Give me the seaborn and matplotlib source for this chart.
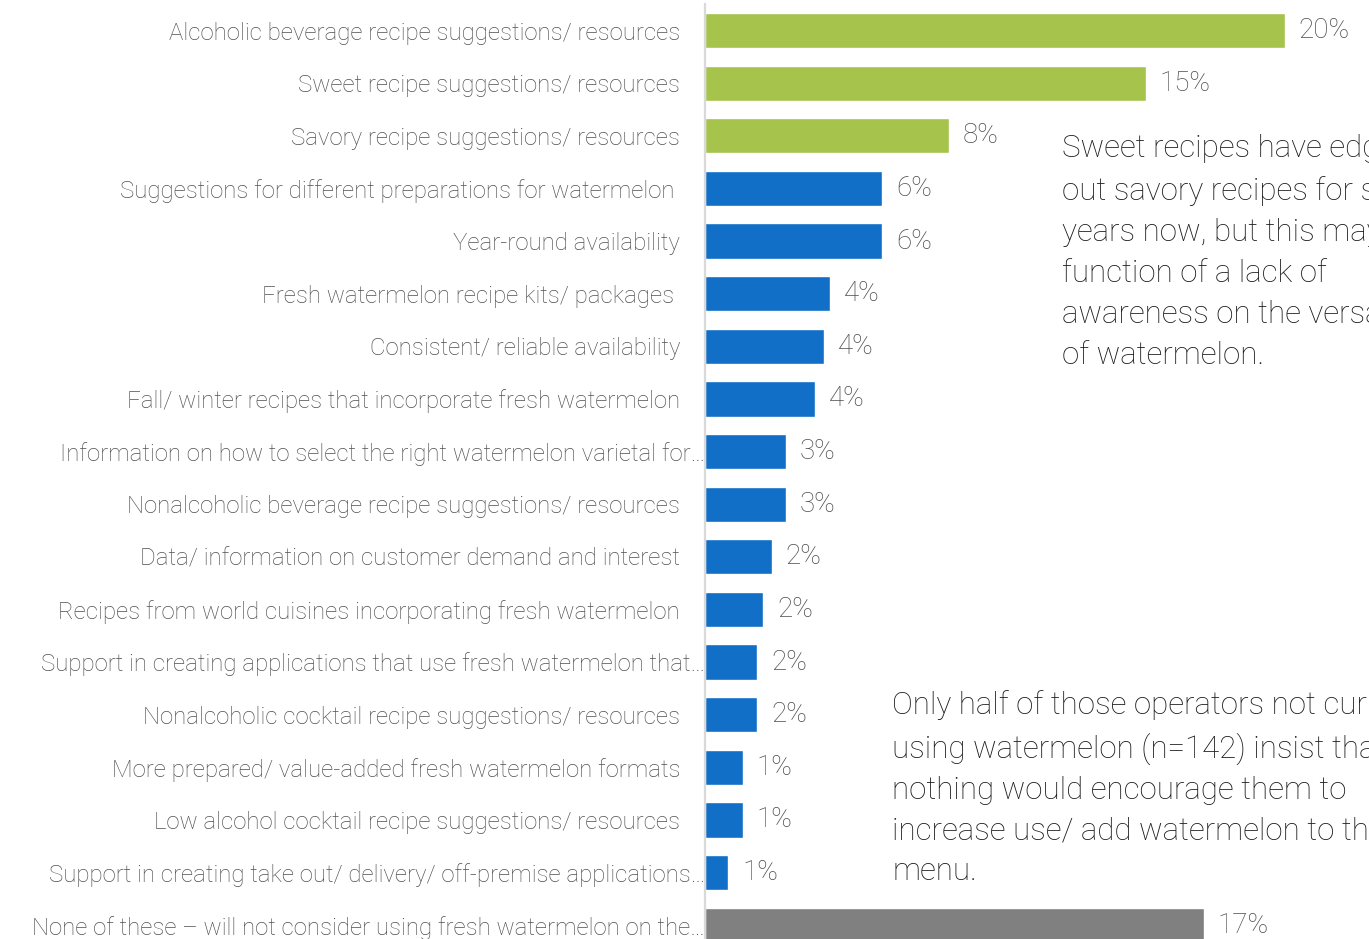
import matplotlib
matplotlib.use("Agg")
import matplotlib.pyplot as plt
from matplotlib.transforms import ScaledTranslation
import seaborn as sns
import pandas as pd

# Survey responses: what would encourage operators to use more fresh watermelon
categories = [
    "Alcoholic beverage recipe suggestions/ resources",
    "Sweet recipe suggestions/ resources",
    "Savory recipe suggestions/ resources",
    "Suggestions for different preparations for watermelon ",
    "Year-round availability",
    "Fresh watermelon recipe kits/ packages ",
    "Consistent/ reliable availability",
    "Fall/ winter recipes that incorporate fresh watermelon",
    "Information on how to select the right watermelon varietal for…",
    "Nonalcoholic beverage recipe suggestions/ resources",
    "Data/ information on customer demand and interest",
    "Recipes from world cuisines incorporating fresh watermelon",
    "Support in creating applications that use fresh watermelon that…",
    "Nonalcoholic cocktail recipe suggestions/ resources",
    "More prepared/ value-added fresh watermelon formats",
    "Low alcohol cocktail recipe suggestions/ resources",
    "Support in creating take out/ delivery/ off-premise applications…",
    "None of these – will not consider using fresh watermelon on the…",
]
values = [20.0, 15.2, 8.4, 6.1, 6.1, 4.3, 4.1, 3.8, 2.8, 2.8,
          2.3, 2.0, 1.8, 1.8, 1.3, 1.3, 0.8, 17.2]
groups = ["recipe", "recipe", "recipe"] + ["other"] * 14 + ["none"]

group_colors = {"recipe": "#A6C34B", "other": "#116FC7", "none": "#808080"}

df = pd.DataFrame({"category": categories, "value": values, "group": groups})

sns.set_theme(style="white")
plt.rcParams["font.family"] = ["Roboto", "DejaVu Sans"]

fig = plt.figure(figsize=(13.69, 9.39), dpi=100)
ax = fig.add_axes([0.515, -0.0133, 0.485, 1.0088])

sns.barplot(data=df, y="category", x="value", hue="group", palette=group_colors,
            dodge=False, legend=False, width=0.67, saturation=1, ax=ax,
            orient="h", order=categories)

ax.set_xlim(0, 22.9)
ax.set_ylim(17.5, -0.5)
ax.set_xlabel("")
ax.set_ylabel("")
ax.set_xticks([])

for side in ["top", "right", "bottom"]:
    ax.spines[side].set_visible(False)
ax.spines["left"].set_color("#D9D9D9")
ax.spines["left"].set_linewidth(1.6)

ax.tick_params(axis="y", length=0, pad=18, labelsize=17.3, labelcolor="#505050")
for lbl in ax.get_yticklabels():
    lbl.set_fontweight("light")
    if lbl.get_text().endswith("…"):
        # truncated labels run right up to the axis line
        lbl.set_transform(lbl.get_transform() + ScaledTranslation(0.25, 0, fig.dpi_scale_trans))

# value labels
for i, v in enumerate(values):
    ax.annotate(f"{v:.0f}%", xy=(v, i), xytext=(10, 0), textcoords="offset points",
                va="center", ha="left", fontsize=20, color="#4d4d4d",
                fontweight="light")

note1 = ("Sweet recipes have edged\nout savory recipes for some\nyears now, but this may be a\n"
         "function of a lack of\nawareness on the versatility\nof watermelon.")
note2 = ("Only half of those operators not currently\nusing watermelon (n=142) insist that\n"
         "nothing would encourage them to\nincrease use/ add watermelon to the\nmenu.")

fig.text(1062 / 1369, 1 - 134 / 939, note1, ha="left", va="top", fontsize=22.5,
         color="#1a1a1a", linespacing=1.53, fontweight="light")
fig.text(892 / 1369, 1 - 690 / 939, note2, ha="left", va="top", fontsize=22.5,
         color="#1a1a1a", linespacing=1.5, fontweight="light")

fig.savefig("out.png", dpi=100)
